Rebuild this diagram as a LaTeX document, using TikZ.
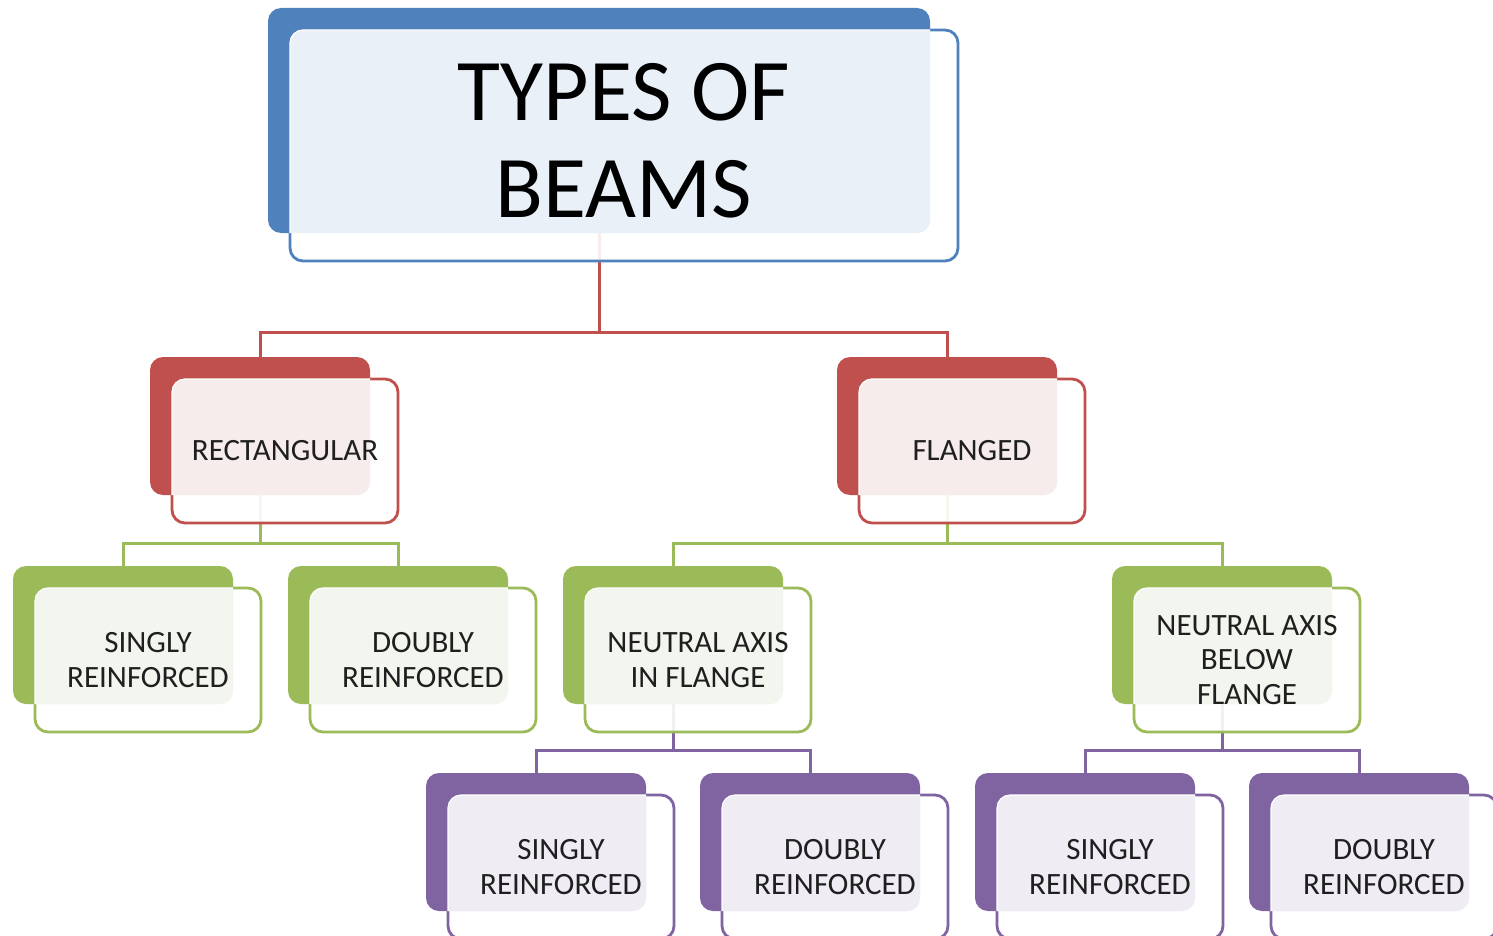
\documentclass[tikz,border=0pt]{standalone}
\usepackage{fontspec}
\setmainfont{Carlito}
\usetikzlibrary{calc}
\pgfdeclarelayer{bg}
\pgfsetlayers{bg,main}
\definecolor{bblue}{HTML}{4F81BD}
\definecolor{tblue}{HTML}{EAF0F8}
\definecolor{bred}{HTML}{C0504D}
\definecolor{tred}{HTML}{F6ECEC}
\definecolor{bgreen}{HTML}{9BBB59}
\definecolor{tgreen}{HTML}{F3F6EE}
\definecolor{bpurple}{HTML}{8064A2}
\definecolor{tpurple}{HTML}{EFECF4}
\tikzset{
  backbox/.style={inner sep=0pt, outer sep=0pt, rounded corners=13pt, anchor=north west},
  frontbox/.style={inner sep=0pt, outer sep=0pt, rounded corners=13pt, anchor=north west, line width=2.8pt, fill=white, fill opacity=0.9},
  conn/.style={line width=3pt},
  lbl/.style={align=center, text=black!88, font=\fontsize{31}{34.5}\selectfont},
  ttl/.style={align=center, text=black, font=\fontsize{88}{97}\selectfont},
}
\newcommand\beambox[8]{%
  \node[backbox, fill=#2, minimum width=#6pt, minimum height=#7pt] (#1) at (#4,#5) {};
  \node[frontbox, draw=#2, minimum width=#6pt+6pt, minimum height=#7pt+6pt] (#1f) at ($(#4,#5)+(22,22)$) {};
  \begin{scope}
    \clip[rounded corners=13pt] (#1.north west) rectangle (#1.south east);
    \fill[#3, rounded corners=13pt] (#1f.north west) rectangle (#1f.south east);
    \draw[white, line width=1.2pt, rounded corners=13pt] (#1f.north west) rectangle (#1f.south east);
  \end{scope}
  \node[#8] at (#1f.center)}
\begin{document}
\begin{tikzpicture}[x=1pt,y=-1pt]
\useasboundingbox (0,0) rectangle (1493,936);
% level 0
\beambox{top}{bblue}{tblue}{268}{8}{662}{225}{ttl, yshift=5pt}{TYPES OF\\BEAMS};
% level 1
\beambox{rect}{bred}{tred}{150}{357}{220}{138}{lbl}{RECTANGULAR};
\beambox{flan}{bred}{tred}{837}{357}{220}{138}{lbl}{FLANGED};
% level 2
\beambox{sra}{bgreen}{tgreen}{13}{566}{220}{138}{lbl}{SINGLY\\REINFORCED};
\beambox{dra}{bgreen}{tgreen}{288}{566}{220}{138}{lbl}{DOUBLY\\REINFORCED};
\beambox{nain}{bgreen}{tgreen}{563}{566}{220}{138}{lbl}{NEUTRAL AXIS\\IN FLANGE};
\beambox{nabl}{bgreen}{tgreen}{1112}{566}{220}{138}{lbl}{NEUTRAL AXIS\\BELOW\\FLANGE};
% level 3
\beambox{srb}{bpurple}{tpurple}{426}{773}{220}{138}{lbl}{SINGLY\\REINFORCED};
\beambox{drb}{bpurple}{tpurple}{700}{773}{220}{138}{lbl}{DOUBLY\\REINFORCED};
\beambox{src}{bpurple}{tpurple}{975}{773}{220}{138}{lbl}{SINGLY\\REINFORCED};
\beambox{drc}{bpurple}{tpurple}{1249}{773}{220}{138}{lbl}{DOUBLY\\REINFORCED};
% connectors
\begin{pgfonlayer}{bg}
\draw[conn, bred] (top.south) |- ($(rect.north)+(0,-25)$) -- (rect.north);
\draw[conn, bred] (top.south) |- ($(flan.north)+(0,-25)$) -- (flan.north);
\draw[conn, bgreen] (rect.south) |- ($(sra.north)+(0,-23)$) -- (sra.north);
\draw[conn, bgreen] (rect.south) |- ($(dra.north)+(0,-23)$) -- (dra.north);
\draw[conn, bgreen] (flan.south) |- ($(nain.north)+(0,-23)$) -- (nain.north);
\draw[conn, bgreen] (flan.south) |- ($(nabl.north)+(0,-23)$) -- (nabl.north);
\draw[conn, bpurple] (nain.south) |- ($(srb.north)+(0,-23)$) -- (srb.north);
\draw[conn, bpurple] (nain.south) |- ($(drb.north)+(0,-23)$) -- (drb.north);
\draw[conn, bpurple] (nabl.south) |- ($(src.north)+(0,-23)$) -- (src.north);
\draw[conn, bpurple] (nabl.south) |- ($(drc.north)+(0,-23)$) -- (drc.north);
\end{pgfonlayer}
\end{tikzpicture}
\end{document}
